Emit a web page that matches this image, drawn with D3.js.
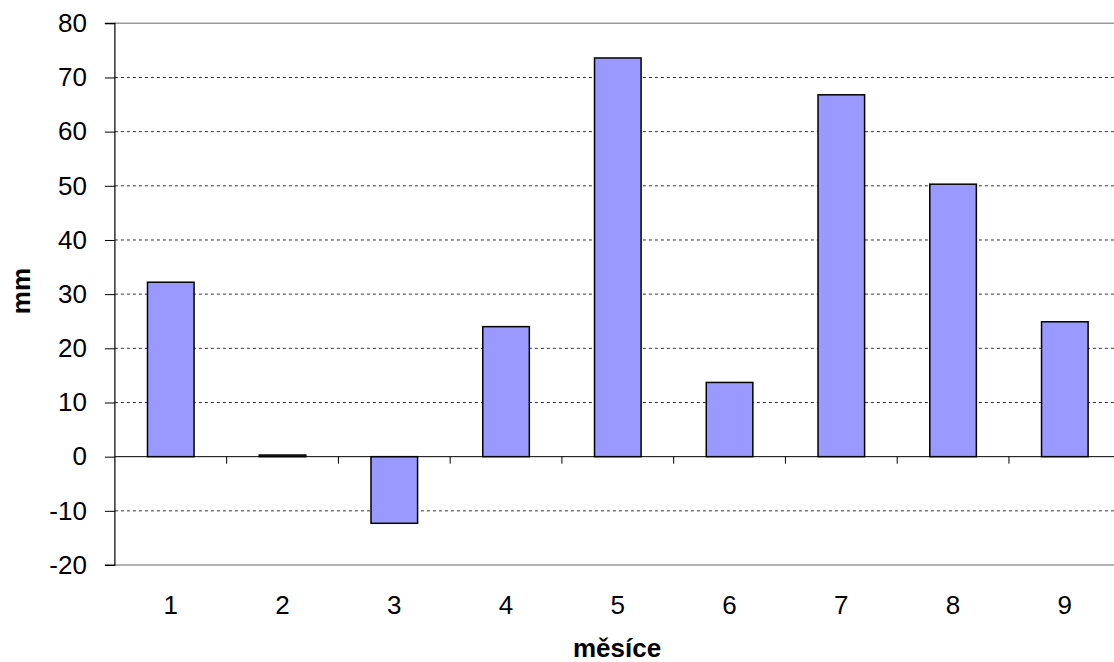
<!DOCTYPE html>
<html><head><meta charset="utf-8">
<script src="https://cdn.jsdelivr.net/npm/d3@7"></script>
<style>body{margin:0;background:#fff}svg{display:block}text{font-family:"Liberation Sans",Arial,sans-serif}</style>
</head><body><svg id="c" width="1114" height="662"></svg>
<script>
const categories = ["1","2","3","4","5","6","7","8","9"];
const values = [32.2, 0.3, -12.3, 24.0, 73.6, 13.7, 66.8, 50.3, 24.9];
const yTicks = [-20,-10,0,10,20,30,40,50,60,70,80];
const xTitle = "měsíce";
const yTitle = "mm";

const svg = d3.select("#c");
const L = 114.9, R = 1120.7, T = 23.3, B = 565;
const x = d3.scaleBand().domain(categories).range([L, R]).paddingInner(0).paddingOuter(0);
const y = d3.scaleLinear().domain([-20, 80]).range([B, T]);

// gridlines
svg.append("g").selectAll("line").data(yTicks.filter(d => d !== 0)).join("line")
  .attr("x1", L).attr("x2", 1114).attr("y1", d => y(d)).attr("y2", d => y(d))
  .attr("stroke", d => (d === 80 || d === -20) ? "#999" : "#333")
  .attr("stroke-width", d => (d === 80 || d === -20) ? 1.5 : 1)
  .attr("stroke-dasharray", d => (d === 80 || d === -20) ? null : "3,3");

// bars
const bw = x.bandwidth() / 2.4;
svg.append("g").selectAll("rect").data(values).join("rect")
  .attr("x", (d, i) => x(categories[i]) + (x.bandwidth() - bw) / 2)
  .attr("width", bw)
  .attr("y", d => y(Math.max(0, d)))
  .attr("height", d => Math.abs(y(d) - y(0)))
  .attr("fill", "#9999ff").attr("stroke", "#000").attr("stroke-width", 1.5);

// zero axis line
svg.append("line").attr("x1", L).attr("x2", 1114).attr("y1", y(0)).attr("y2", y(0)).attr("stroke", "#000").attr("stroke-width", 1);

// x tick marks at band boundaries
const bounds = categories.slice(1).map(c => x(c));
svg.append("g").selectAll("line").data(bounds).join("line")
  .attr("x1", d => d).attr("x2", d => d).attr("y1", y(0)).attr("y2", y(0) + 7)
  .attr("stroke", "#000").attr("stroke-width", 1);

// y axis
const yAxis = d3.axisLeft(y).tickValues(yTicks).tickSize(10).tickPadding(18).tickFormat(d => String(d));
const yg = svg.append("g").attr("transform", `translate(${L},0)`).call(yAxis);
yg.select(".domain").attr("stroke", "#000").attr("stroke-width", 1.2).attr("d", `M-10,${T}H0V${B}H-10`);
yg.selectAll(".tick line").attr("stroke", "#000");
yg.selectAll(".tick text").attr("font-size", 26).attr("fill", "#000").attr("font-family", "Liberation Sans, Arial, sans-serif");

// x labels
svg.append("g").selectAll("text").data(categories).join("text")
  .attr("x", d => x(d) + x.bandwidth() / 2).attr("y", 614)
  .attr("text-anchor", "middle").attr("font-size", 26).attr("fill", "#000").text(d => d);

// titles
svg.append("text").attr("x", 617).attr("y", 657).attr("text-anchor", "middle")
  .attr("font-size", 26).attr("font-weight", "bold").text(xTitle);
svg.append("text").attr("transform", "translate(30,291) rotate(-90)").attr("text-anchor", "middle")
  .attr("font-size", 26).attr("font-weight", "bold").text(yTitle);
</script></body></html>
